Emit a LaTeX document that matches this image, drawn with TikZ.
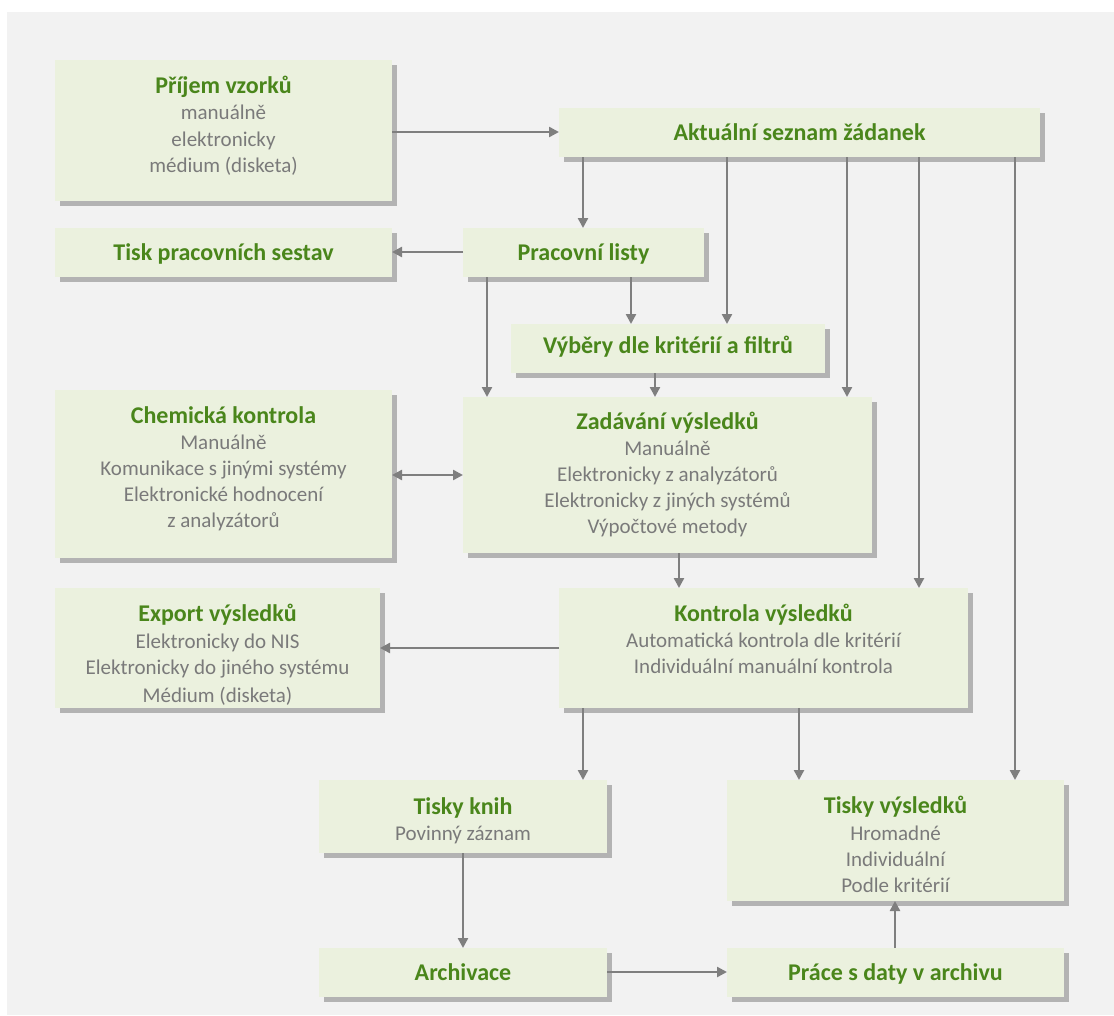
\documentclass[tikz,border=0pt]{standalone}
\usepackage{fontspec}
\setmainfont{Carlito}
\usetikzlibrary{arrows.meta,fit}

\definecolor{pagegray}{HTML}{F2F2F2}
\definecolor{boxfill}{HTML}{EBF1DE}
\definecolor{boxshadow}{HTML}{B3B3B3}
\definecolor{titlegreen}{HTML}{4A861B}
\definecolor{bodygray}{HTML}{7A7A7A}
\definecolor{linkgray}{HTML}{7F7F7F}

\tikzset{
  panel/.style={fill=boxfill, draw=none, inner sep=0pt, outer sep=0pt},
  ttl/.style={font=\fontsize{24}{28}\selectfont\bfseries, text=titlegreen, anchor=base, inner sep=0pt},
  txt/.style={font=\fontsize{21}{26}\selectfont, text=bodygray, anchor=base, inner sep=0pt},
  link/.style={draw=linkgray, line width=2.4pt, -{Triangle[length=10pt,width=10pt]}},
  duallink/.style={draw=linkgray, line width=2.4pt, {Triangle[length=10pt,width=10pt]}-{Triangle[length=10pt,width=10pt]}},
}

% \panel{name}{x1}{y1}{x2}{y2}: shaded box with a drop shadow
\newcommand\panel[5]{%
  \fill[boxshadow, shift={(5,5)}] (#2,#3) rectangle (#4,#5);
  \node[panel, fit={(#2,#3) (#4,#5)}] (#1) {};
}

\begin{document}
\begin{tikzpicture}[x=1pt, y=-1pt]
  \useasboundingbox (0,0) rectangle (1114,1015);
  \fill[white] (0,0) rectangle (1114,1015);
  \fill[pagegray] (7,12) rectangle (1114,1015);

  % boxes
  \panel{prijem}{55}{60}{392}{201}
  \panel{aktual}{559}{108}{1040}{157}
  \panel{tisksestav}{55}{228}{392}{277}
  \panel{listy}{463}{228}{704}{277}
  \panel{vybery}{511}{324}{825}{373}
  \panel{chem}{55}{390}{392}{558}
  \panel{zadavani}{463}{397}{872}{553}
  \panel{export}{55}{588}{380}{708}
  \panel{kontrola}{559}{588}{968}{708}
  \panel{tiskyk}{319}{780}{607}{853}
  \panel{tiskyv}{727}{780}{1064}{901}
  \panel{archiv}{319}{948}{607}{997}
  \panel{prace}{727}{948}{1064}{997}

  % texts
  \node[ttl] (prijem-t) at (prijem.center |- 0,93) {Příjem vzorků};
  \node[txt] (prijem-1) at (prijem.center |- 0,119.5) {manuálně};
  \node[txt] (prijem-2) at (prijem.center |- 0,146) {elektronicky};
  \node[txt] (prijem-3) at (prijem.center |- 0,172) {médium (disketa)};

  \node[ttl] (aktual-t) at (aktual.center |- 0,140.5) {Aktuální seznam žádanek};
  \node[ttl] (tisksestav-t) at (tisksestav.center |- 0,260) {Tisk pracovních sestav};
  \node[ttl] (listy-t) at (listy.center |- 0,260.5) {Pracovní listy};
  \node[ttl] (vybery-t) at (vybery.center |- 0,353) {Výběry dle kritérií a filtrů};

  \node[ttl] (chem-t) at (chem.center |- 0,423) {Chemická kontrola};
  \node[txt] (chem-1) at (chem.center |- 0,449.5) {Manuálně};
  \node[txt] (chem-2) at (chem.center |- 0,475.5) {Komunikace s jinými systémy};
  \node[txt] (chem-3) at (chem.center |- 0,501.5) {Elektronické hodnocení};
  \node[txt] (chem-4) at (chem.center |- 0,527.5) {z analyzátorů};

  \node[ttl] (zadavani-t) at (zadavani.center |- 0,429.5) {Zadávání výsledků};
  \node[txt] (zadavani-1) at (zadavani.center |- 0,455.5) {Manuálně};
  \node[txt] (zadavani-2) at (zadavani.center |- 0,481.5) {Elektronicky z analyzátorů};
  \node[txt] (zadavani-3) at (zadavani.center |- 0,507.5) {Elektronicky z jiných systémů};
  \node[txt] (zadavani-4) at (zadavani.center |- 0,533.5) {Výpočtové metody};

  % the last line of this box is cut off by its lower edge
  \begin{scope}
    \clip (export.north west) rectangle ([yshift=3pt]export.south east);
    \node[ttl] (export-t) at (export.center |- 0,621.5) {Export výsledků};
    \node[txt] (export-1) at (export.center |- 0,648) {Elektronicky do NIS};
    \node[txt] (export-2) at (export.center |- 0,674.5) {Elektronicky do jiného systému};
    \node[txt] (export-3) at (export.center |- 0,702) {Médium (disketa)};
  \end{scope}

  \node[ttl] (kontrola-t) at (kontrola.center |- 0,621) {Kontrola výsledků};
  \node[txt] (kontrola-1) at (kontrola.center |- 0,647.5) {Automatická kontrola dle kritérií};
  \node[txt] (kontrola-2) at (kontrola.center |- 0,673.5) {Individuální manuální kontrola};

  \node[ttl] (tiskyk-t) at (tiskyk.center |- 0,814) {Tisky knih};
  \node[txt] (tiskyk-1) at (tiskyk.center |- 0,840) {Povinný záznam};

  \node[ttl] (tiskyv-t) at (tiskyv.center |- 0,813.5) {Tisky výsledků};
  \node[txt] (tiskyv-1) at (tiskyv.center |- 0,840) {Hromadné};
  \node[txt] (tiskyv-2) at (tiskyv.center |- 0,866) {Individuální};
  \node[txt] (tiskyv-3) at (tiskyv.center |- 0,892) {Podle kritérií};

  \node[ttl] (archiv-t) at (archiv.center |- 0,980) {Archivace};
  \node[ttl] (prace-t) at (prace.center |- 0,980) {Práce s daty v archivu};

  % connectors
  \draw[link] (prijem.east |- 0,132) -- (aktual.west |- 0,132);
  \draw[link] (aktual.south -| 583,0) -- (listy.north -| 583,0);
  \draw[link] (aktual.south -| 727,0) -- (vybery.north -| 727,0);
  \draw[link] (aktual.south -| 847,0) -- (zadavani.north -| 847,0);
  \draw[link] (aktual.south -| 919,0) -- (kontrola.north -| 919,0);
  \draw[link] (aktual.south -| 1015,0) -- (tiskyv.north -| 1015,0);
  \draw[link] (listy.west |- 0,252) -- (tisksestav.east |- 0,252);
  \draw[link] (listy.south -| 487,0) -- (zadavani.north -| 487,0);
  \draw[link] (listy.south -| 631,0) -- (vybery.north -| 631,0);
  \draw[link] (vybery.south -| 655,0) -- (zadavani.north -| 655,0);
  \draw[duallink] (chem.east |- 0,475) -- (zadavani.west |- 0,475);
  \draw[link] (zadavani.south -| 679,0) -- (kontrola.north -| 679,0);
  \draw[link] (kontrola.west |- 0,648) -- (export.east |- 0,648);
  \draw[link] (kontrola.south -| 583,0) -- (tiskyk.north -| 583,0);
  \draw[link] (kontrola.south -| 799,0) -- (tiskyv.north -| 799,0);
  \draw[link] (tiskyk.south -| 463,0) -- (archiv.north -| 463,0);
  \draw[link] (archiv.east |- 0,972) -- (prace.west |- 0,972);
  \draw[link] (prace.north -| 895,0) -- (tiskyv.south -| 895,0);
\end{tikzpicture}
\end{document}
